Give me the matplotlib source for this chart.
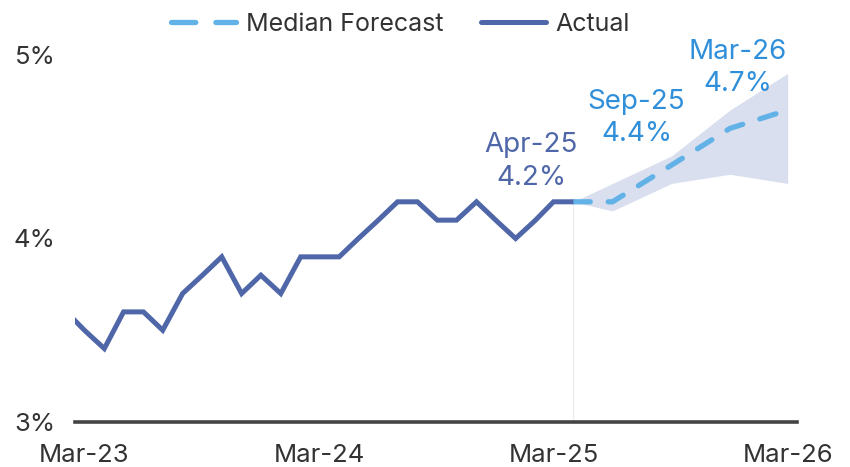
import matplotlib
matplotlib.use("Agg")
import matplotlib.pyplot as plt
import matplotlib.dates as mdates
import pandas as pd
from matplotlib.lines import Line2D

# ---- data ----
actual_months = ["2023-02", "2023-03", "2023-04", "2023-05", "2023-06", "2023-07",
                 "2023-08", "2023-09", "2023-10", "2023-11", "2023-12", "2024-01",
                 "2024-02", "2024-03", "2024-04", "2024-05", "2024-06", "2024-07",
                 "2024-08", "2024-09", "2024-10", "2024-11", "2024-12", "2025-01",
                 "2025-02", "2025-03", "2025-04"]
actual_values = [3.6, 3.5, 3.4, 3.6, 3.6, 3.5, 3.7, 3.8, 3.9, 3.7, 3.8, 3.7,
                 3.9, 3.9, 3.9, 4.0, 4.1, 4.2, 4.2, 4.1, 4.1, 4.2, 4.1, 4.0,
                 4.1, 4.2, 4.2]

forecast_months = ["2025-04", "2025-06", "2025-09", "2025-12", "2026-03"]
forecast_median = [4.2, 4.2, 4.4, 4.6, 4.7]
forecast_low = [4.2, 4.15, 4.3, 4.35, 4.3]
forecast_high = [4.2, 4.3, 4.45, 4.7, 4.9]

annot_months = ["2025-04", "2025-09", "2026-03"]
annot_labels = ["Apr-25\n4.2%", "Sep-25\n4.4%", "Mar-26\n4.7%"]
annot_values = [4.2, 4.4, 4.7]

x_ticks = ["2023-03", "2024-03", "2025-03", "2026-03"]
y_ticks = [3, 4, 5]

# ---- styles ----
C_ACT = "#4F67A8"
C_FC = "#62B2E8"
C_BAND = "#D9DFEE"
C_ANN = "#2F8FDA"
C_TXT = "#333333"
FONT = ["Inter", "DejaVu Sans"]
plt.rcParams["font.family"] = FONT

fig = plt.figure(figsize=(8.5, 4.67), dpi=100)
ax = fig.add_axes([0.088, 0.0964, 0.85, 0.7858])

xa = pd.to_datetime(actual_months)
xf = pd.to_datetime(forecast_months)

ax.fill_between(xf, forecast_low, forecast_high, color=C_BAND, lw=0, zorder=1)
ax.vlines(xf[0], 3, actual_values[-1], color="#ececec", lw=0.8, zorder=1)
ax.plot(xa, actual_values, color=C_ACT, lw=3.6, solid_joinstyle="miter",
        solid_capstyle="butt", zorder=3)
ax.plot(xf, forecast_median, color=C_FC, lw=3.8, dashes=(3.2, 3.4),
        dash_capstyle="round", zorder=2)

ann_colors = [C_ACT, C_ANN, C_ANN]
ann_dx = [-42, -35, -50]
ann_dy = [11, 18, 13]
for m, lab, v, c, dx, dy in zip(annot_months, annot_labels, annot_values, ann_colors,
                                ann_dx, ann_dy):
    ax.annotate(lab, (pd.to_datetime(m), v), xytext=(dx, dy), textcoords="offset pixels",
                ha="center", va="bottom", color=c, fontsize=20, linespacing=1.32)

left = pd.to_datetime("2023-03-01") - pd.Timedelta(days=15)
right = pd.to_datetime("2026-03-01") + pd.Timedelta(days=15)
ax.set_xlim(left, right)
ax.set_ylim(3, 5)

ax.set_xticks(pd.to_datetime(x_ticks))
ax.xaxis.set_major_formatter(mdates.DateFormatter("%b-%y"))
ax.set_yticks(y_ticks)
ax.set_yticklabels([f"{t}%" for t in y_ticks])
ax.tick_params(axis="both", length=0, labelsize=18.5, labelcolor=C_TXT)
ax.tick_params(axis="x", pad=16)
ax.tick_params(axis="y", pad=14)

for s in ["top", "right", "left"]:
    ax.spines[s].set_visible(False)
ax.spines["bottom"].set_color("#444444")
ax.spines["bottom"].set_linewidth(2.6)
ax.set_facecolor("none")

handles = [Line2D([], [], color=C_FC, lw=3.8, dashes=(4.6, 3.8), dash_capstyle="round"),
           Line2D([], [], color=C_ACT, lw=3.6, solid_capstyle="round")]
fig.legend(handles, ["Median Forecast", "Actual"], loc="upper center",
           bbox_to_anchor=(0.471, 1.02), ncol=2, frameon=False, fontsize=18,
           handlelength=2.6, columnspacing=1.5, handletextpad=0.4, labelcolor=C_TXT)

fig.savefig("out.png", dpi=100)
